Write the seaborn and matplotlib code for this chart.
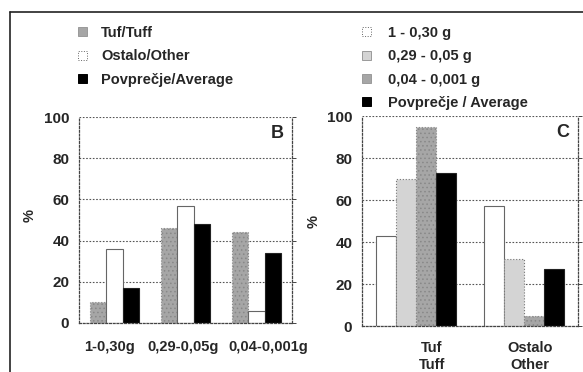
import matplotlib
matplotlib.use("Agg")
import matplotlib.pyplot as plt
import matplotlib.transforms as mtransforms
from matplotlib.patches import Patch
from matplotlib.lines import Line2D
from matplotlib.ticker import FixedLocator, NullFormatter
import seaborn as sns
import pandas as pd

# ---- Panel B: share of pieces by weight class ----
classes_b = ["1-0,30g", "0,29-0,05g", "0,04-0,001g"]
series_b = ["Tuf/Tuff", "Ostalo/Other", "Povprečje/Average"]
tuf_b = [10, 46, 44]
ostalo_b = [36, 57, 6]
avg_b = [17, 48, 34]
colors_b = ["#a6a6a6", "#ffffff", "#000000"]

# ---- Panel C: share of pieces by raw material ----
groups_c = ["Tuf\nTuff", "Ostalo\nOther"]
series_c = ["1 - 0,30 g", "0,29 - 0,05 g", "0,04 - 0,001 g", "Povprečje / Average"]
w1_c = [43, 57]
w2_c = [70, 32]
w3_c = [95, 5]
avg_c = [73, 27]
colors_c = ["#ffffff", "#d4d4d4", "#a6a6a6", "#000000"]

y_ticks = [0, 20, 40, 60, 80, 100]

df_b = pd.DataFrame({
    "cat": classes_b * 3,
    "series": [s for s in series_b for _ in classes_b],
    "val": tuf_b + ostalo_b + avg_b,
})
df_c = pd.DataFrame({
    "cat": groups_c * 4,
    "series": [s for s in series_c for _ in groups_c],
    "val": w1_c + w2_c + w3_c + avg_c,
})

sns.set_style("white")
plt.rcParams["font.family"] = ["Liberation Sans", "DejaVu Sans"]
plt.rcParams["font.weight"] = "bold"
plt.rcParams["font.size"] = 10.5
plt.rcParams["hatch.linewidth"] = 0.6

W, H = 583, 372
fig = plt.figure(figsize=(W / 100, H / 100), dpi=100)

ax_b = fig.add_axes([79 / W, 1 - 323 / H, 213 / W, 206 / H])
ax_c = fig.add_axes([362 / W, 1 - 326 / H, 216 / W, 210 / H])

sns.barplot(data=df_b, x="cat", y="val", hue="series", hue_order=series_b,
            palette=colors_b, width=0.68, ax=ax_b, legend=False, saturation=1)
sns.barplot(data=df_c, x="cat", y="val", hue="series", hue_order=series_c,
            palette=colors_c, width=0.74, ax=ax_c, legend=False, saturation=1)


def style_bars(ax, colors):
    for cont, col in zip(ax.containers, colors):
        for bar in cont:
            bar.set_linewidth(0.8)
            if col == "#ffffff":
                bar.set_edgecolor("#666666")
            elif col == "#000000":
                bar.set_edgecolor("#222222")
            elif col == "#a6a6a6":
                bar.set_edgecolor("#888888")
                bar.set_hatch("....")
                bar.set_linestyle(":")
            else:
                bar.set_edgecolor("#777777")
                bar.set_linestyle(":")


style_bars(ax_b, colors_b)
style_bars(ax_c, colors_c)


def style_axis(ax, n, pad_x):
    ax.set_ylim(0, 100)
    ax.set_xlim(-0.5, n - 0.5)
    ax.set_yticks(y_ticks)
    ax.set_axisbelow(True)
    ax.yaxis.grid(True, linestyle=(0, (1.5, 1.5)), color="#555555", linewidth=0.8)
    ax.xaxis.grid(False)
    for side in ["left", "bottom", "right"]:
        ax.spines[side].set_visible(True)
        ax.spines[side].set_linestyle((0, (1.5, 1.5)))
        ax.spines[side].set_color("#444444")
        ax.spines[side].set_linewidth(0.9)
    ax.spines["top"].set_visible(False)
    ax.set_xlabel("")
    ax.set_ylabel("%", fontsize=10.5, fontweight="bold")
    ax.tick_params(axis="y", direction="out", length=3, width=0.7,
                   color="#444444", pad=4, labelsize=11, right=True)
    ax.tick_params(axis="y", which="both", labelright=False)
    ax.tick_params(axis="x", which="major", length=0, pad=pad_x, labelsize=10.5)
    ax.xaxis.set_minor_locator(FixedLocator([i + 0.5 for i in range(n)]))
    ax.xaxis.set_minor_formatter(NullFormatter())
    ax.tick_params(axis="x", which="minor", direction="out", length=3,
                   width=0.7, color="#444444")


style_axis(ax_b, len(classes_b), 12)
style_axis(ax_c, len(groups_c), 11)
ax_b.yaxis.set_label_coords(-42 / 213, 0.52)
ax_c.yaxis.set_label_coords(-41 / 216, 0.5)


def nudge_labels(ax, shifts_px, linespacing=None):
    for lab, dx in zip(ax.get_xticklabels(), shifts_px):
        off = mtransforms.ScaledTranslation(dx / 100, 0, fig.dpi_scale_trans)
        lab.set_transform(lab.get_transform() + off)
        if linespacing is not None:
            lab.set_linespacing(linespacing)


nudge_labels(ax_b, [-5, -2, 12])
nudge_labels(ax_c, [16, 6], linespacing=1.25)

ax_b.text(0.93, 0.92, "B", transform=ax_b.transAxes, fontsize=13,
          ha="center", va="center")
ax_c.text(0.93, 0.92, "C", transform=ax_c.transAxes, fontsize=13,
          ha="center", va="center")


def make_handles(colors):
    hs = []
    for col in colors:
        if col == "#ffffff":
            hs.append(Patch(facecolor=col, edgecolor="#666666", linewidth=0.7,
                            linestyle=":"))
        elif col == "#000000":
            hs.append(Patch(facecolor=col, edgecolor="#000000", linewidth=0.7))
        else:
            hs.append(Patch(facecolor=col, edgecolor="#9a9a9a", linewidth=0.7))
    return hs


leg_kw = dict(frameon=False, prop={"size": 10.5, "weight": "bold"},
              handlelength=0.6, handleheight=0.6, labelspacing=0.64,
              borderpad=0, borderaxespad=0, loc="upper left")
leg_b = ax_b.legend(make_handles(colors_b), series_b,
                    bbox_to_anchor=(78 / W, 1 - 26 / H), handletextpad=1.0,
                    bbox_transform=fig.transFigure, **leg_kw)
leg_c = ax_c.legend(make_handles(colors_c), series_c,
                    bbox_to_anchor=(362 / W, 1 - 26 / H), handletextpad=1.15,
                    bbox_transform=fig.transFigure, **leg_kw)

# outer frame on the left and top edges
fig.add_artist(Line2D([10 / W, 10 / W], [0, 1 - 12 / H], color="#222222",
                      linewidth=1.2, transform=fig.transFigure))
fig.add_artist(Line2D([10 / W, 1], [1 - 12 / H, 1 - 12 / H], color="#222222",
                      linewidth=1.2, transform=fig.transFigure))

fig.savefig("out.png", dpi=100)
